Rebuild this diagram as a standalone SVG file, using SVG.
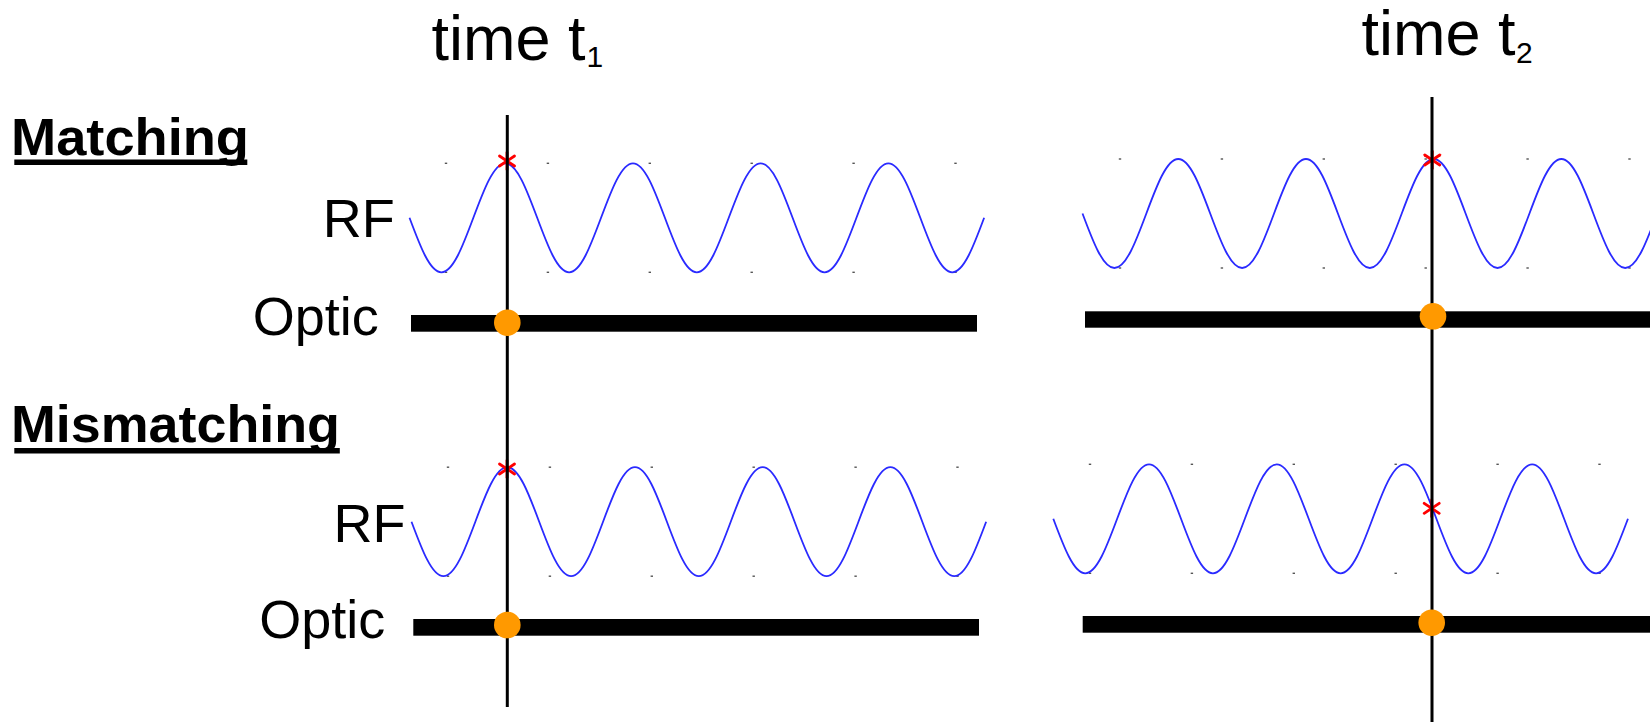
<svg xmlns="http://www.w3.org/2000/svg" width="1650" height="722" viewBox="0 0 1650 722">
<style>
  text { font-family: "Liberation Sans", Arial, sans-serif; fill: #000; }
  .time { font-size: 63px; }
  .sub { font-size: 30px; }
  .head { font-size: 52px; font-weight: bold; }
  .sig { font-size: 54px; }
  .wave { fill: none; stroke: #2a2aff; stroke-width: 1.8; stroke-linejoin: round; }
  .bar { fill: #000; }
  .dot { fill: #ff9900; }
  .star { stroke: #ff0000; stroke-width: 2.8; fill: none; stroke-linecap: round; }
  .tick { fill: #555; }
  .vline { stroke: #000; stroke-width: 3; }
  .ul { fill: #000; }
</style>
<defs>
  <path id="sine" d="M0,0 c 10.41,27.92 20.37,54.5 31.925,54.5
    s 21.515,-26.58 31.925,-54.5 s 20.37,-54.5 31.925,-54.5 s 21.515,26.58 31.925,54.5 s 20.37,54.5 31.925,54.5
    s 21.515,-26.58 31.925,-54.5 s 20.37,-54.5 31.925,-54.5 s 21.515,26.58 31.925,54.5 s 20.37,54.5 31.925,54.5
    s 21.515,-26.58 31.925,-54.5 s 20.37,-54.5 31.925,-54.5 s 21.515,26.58 31.925,54.5 s 20.37,54.5 31.925,54.5
    s 21.515,-26.58 31.925,-54.5 s 20.37,-54.5 31.925,-54.5 s 21.515,26.58 31.925,54.5 s 20.37,54.5 31.925,54.5
    s 21.515,-26.58 31.925,-54.5"/>
  <g id="ast">
    <line class="star" x1="0" y1="-8.5" x2="0" y2="8.5"/>
    <line class="star" x1="-7.5" y1="-5" x2="7.5" y2="5"/>
    <line class="star" x1="-7.5" y1="5" x2="7.5" y2="-5"/>
  </g>
  <g id="ticks">
    <rect class="tick" x="-1.2" y="-0.7" width="2.4" height="1.4"/>
    <rect class="tick" x="100.7" y="-0.7" width="2.4" height="1.4"/>
    <rect class="tick" x="202.6" y="-0.7" width="2.4" height="1.4"/>
    <rect class="tick" x="304.5" y="-0.7" width="2.4" height="1.4"/>
    <rect class="tick" x="406.4" y="-0.7" width="2.4" height="1.4"/>
    <rect class="tick" x="508.3" y="-0.7" width="2.4" height="1.4"/>
    <rect class="tick" x="-1.2" y="108.3" width="2.4" height="1.4"/>
    <rect class="tick" x="100.7" y="108.3" width="2.4" height="1.4"/>
    <rect class="tick" x="202.6" y="108.3" width="2.4" height="1.4"/>
    <rect class="tick" x="304.5" y="108.3" width="2.4" height="1.4"/>
    <rect class="tick" x="406.4" y="108.3" width="2.4" height="1.4"/>
    <rect class="tick" x="508.3" y="108.3" width="2.4" height="1.4"/>
  </g>
</defs>
<rect width="1650" height="722" fill="#fff"/>

<g id="title-t1">
  <text class="time" x="431.5" y="60">time t</text>
  <text class="sub" x="586.5" y="67">1</text>
</g>
<g id="title-t2">
  <text class="time" x="1361.5" y="55">time t</text>
  <text class="sub" x="1516" y="63">2</text>
</g>

<g id="heading-matching">
  <text class="head" x="11" y="155" textLength="238" lengthAdjust="spacingAndGlyphs">Matching</text>
  <rect class="ul" x="14.3" y="159.5" width="233" height="5.5"/>
</g>
<g id="heading-mismatching">
  <text class="head" x="11" y="442.3" textLength="329" lengthAdjust="spacingAndGlyphs">Mismatching</text>
  <rect class="ul" x="14.3" y="448" width="325.5" height="5.5"/>
</g>

<g id="labels">
  <text class="sig" x="322.7" y="236.7">RF</text>
  <text class="sig" x="252.8" y="334.5">Optic</text>
  <text class="sig" x="333.5" y="542">RF</text>
  <text class="sig" x="259.2" y="637.5">Optic</text>
</g>

<g id="matching-t1">
  <use href="#ticks" x="446" y="163.3"/>
  <use href="#sine" class="wave" x="409.5" y="217.8"/>
  <use href="#ast" x="507" y="161"/>
</g>
<g id="matching-t2">
  <use href="#ticks" x="1120" y="159"/>
  <use href="#sine" class="wave" x="1082.5" y="213.5"/>
  <use href="#ast" x="1432.3" y="160"/>
</g>
<g id="mismatching-t1">
  <use href="#ticks" x="448" y="467.2"/>
  <use href="#sine" class="wave" x="411.5" y="521.7"/>
  <use href="#ast" x="507" y="469"/>
</g>
<g id="mismatching-t2">
  <use href="#ticks" x="1090" y="464.3"/>
  <use href="#sine" class="wave" x="1053.3" y="518.8"/>
  <use href="#ast" x="1431.7" y="508.3"/>
</g>

<g id="connectors">
  <line class="vline" x1="507.3" y1="115" x2="507.3" y2="707"/>
  <line class="vline" x1="1432" y1="97" x2="1432" y2="722"/>
</g>

<g id="optic-bars">
  <rect class="bar" x="411" y="315" width="566" height="16.7"/>
  <rect class="bar" x="1085" y="311.3" width="565" height="16.4"/>
  <rect class="bar" x="413.3" y="619" width="565.7" height="16.7"/>
  <rect class="bar" x="1082.7" y="616" width="567.3" height="16.7"/>
</g>
<g id="optic-pulses">
  <circle class="dot" cx="507.3" cy="322.7" r="13.3"/>
  <circle class="dot" cx="1433" cy="316.3" r="13.3"/>
  <circle class="dot" cx="507.3" cy="625" r="13.3"/>
  <circle class="dot" cx="1431.7" cy="622.7" r="13.3"/>
</g>
</svg>
